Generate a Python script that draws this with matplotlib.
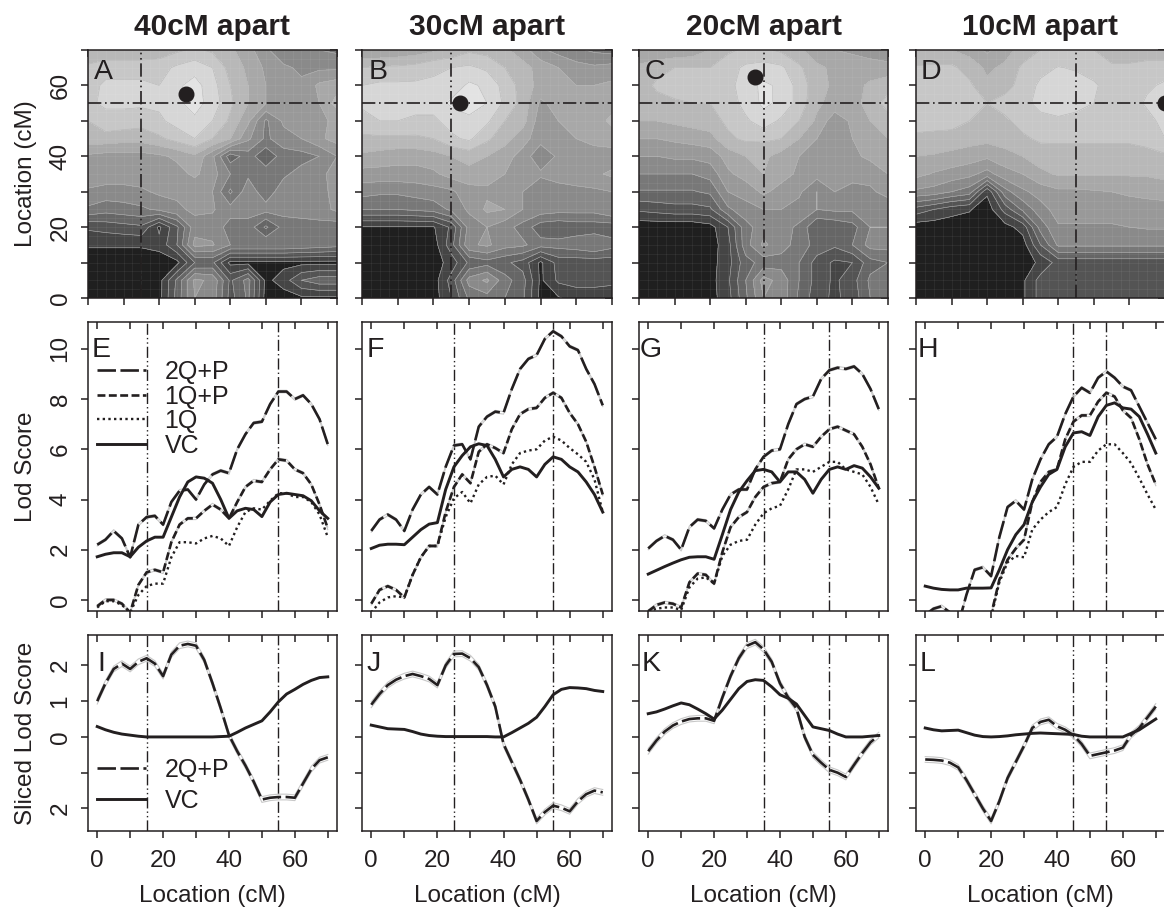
import numpy as np
import matplotlib
matplotlib.use("Agg")
import matplotlib.pyplot as plt

plt.rcParams['font.family'] = ['Liberation Sans', 'DejaVu Sans']
INK = '#231f20'
W, H = 1164, 908

# data: map grids, rows run from y=70 down to y=0, columns x=0..70 in 5 cM steps
map_x = np.arange(0, 75, 5)
map_y = np.arange(70, -5, -5)
grid_a = [
    [8.2, 8.2, 8.2, 8.2, 8.4, 8.8, 9.2, 8.8, 8.2, 7.4, 6.2, 5.2, 5, 5, 4.8],
    [9.2, 9.6, 9.6, 9.6, 9.6, 10.2, 10.6, 10, 8.6, 7.8, 6.8, 6.2, 5.8, 5.8, 5.8],
    [9.6, 10.2, 10.2, 10.2, 10, 10.8, 11.4, 10.4, 9, 8, 7, 6.4, 6.2, 7.2, 7.6],
    [9.8, 10.2, 10.2, 10.2, 10.2, 10.8, 11.4, 10.6, 9.2, 8, 7, 6.2, 6.2, 7, 8.4],
    [9, 9.6, 9.6, 9.4, 9.8, 10.4, 10.8, 10, 8.8, 7.2, 4.8, 6.2, 6.4, 6.8, 7.2],
    [8.6, 8.6, 8.4, 8.4, 8.8, 9.4, 10, 9, 8, 6.2, 4.8, 5.6, 6, 6.8, 7.4],
    [6.8, 6.6, 6.6, 6.6, 6.8, 7.2, 7.8, 6.2, 3.4, 4.5, 3.2, 4.5, 4.6, 5, 6],
    [6.8, 6.6, 6.6, 6.6, 6.4, 6.6, 7.2, 6.4, 5, 4.8, 4.6, 4.8, 5.4, 5.6, 6.6],
    [5.8, 5.6, 5.6, 5.8, 6.2, 6.2, 6.2, 6, 3.8, 5.6, 4.4, 5.6, 5.6, 5.6, 6.4],
    [4.8, 4.4, 4.6, 4.8, 5.2, 5.8, 6.2, 6.1, 5.4, 5.4, 5.4, 5.4, 5.4, 5.6, 6.2],
    [2.2, 2.4, 2.6, 2.8, .8, 2.8, 5.6, 5.6, 4.6, 4.6, 2.8, 4.4, 4.6, 4.6, 4.4],
    [1.1, 1.1, 1.1, 1.1, 1.3, 3, 6.3, 6.1, 5, 5, 5, 5, 4.8, 4.6, 4.4],
    [.5, .5, .5, .5, .5, .7, 3, 3.2, .7, .7, .7, .7, .7, .7, .7],
    [.5, .5, .5, .5, .6, 3.2, 6.2, 5.8, 2.8, 4.4, .7, 1.5, 3, 3.6, 3.6],
    [.5, .5, .5, .5, .6, 3.4, 6, 5.6, 2.6, 4.2, .6, .5, .8, .8, .8],
]
grid_b = [
    [7, 7, 7.2, 7.4, 7.8, 8.2, 8.8, 8.6, 8.2, 7.4, 6.2, 5.6, 5.2, 4.8, 4.6],
    [9, 9.2, 9.2, 9.4, 9.8, 10, 10.2, 9.8, 9, 8.4, 7.6, 7, 6.4, 6.2, 6.4],
    [10, 10.2, 10.2, 10.2, 10.2, 10.4, 11.2, 10.8, 9.6, 8.6, 7.6, 7.4, 7, 7, 7.2],
    [10.2, 10.4, 10.6, 10.4, 10.4, 11.2, 11.4, 11, 9.8, 8.6, 6.8, 7.4, 7.4, 7.4, 7.6],
    [9.6, 10, 10, 9.8, 9.8, 10.4, 10.8, 10.2, 9, 8.4, 6.4, 7, 7.2, 7.6, 8.2],
    [8.8, 8.8, 8.8, 8.8, 9, 9.8, 10.2, 9.2, 8.4, 7.4, 6.4, 6.8, 7, 7.4, 7.6],
    [7.8, 7.6, 7.4, 7.4, 7.6, 8, 8.4, 8, 7.4, 6.6, 5.2, 6.2, 6.4, 6.4, 6.4],
    [6.6, 6.6, 6.6, 6.6, 6.8, 7.4, 7.6, 7.4, 7, 6.4, 6.2, 6.2, 6.4, 6.8, 7.2],
    [5.4, 5.2, 5.2, 5.4, 5.6, 5.8, 6.6, 6.8, 6.6, 6, 5.2, 5.8, 5.8, 5.8, 6],
    [4, 4, 4, 4.2, 4.4, 5.2, 6.2, 7.2, 7, 6, 5.6, 5.4, 5.4, 5.4, 6],
    [.9, .9, .9, .9, .9, 2.2, 5.4, 6, 5.4, 4.6, 3.4, 3.2, 3.4, 3.4, 3.4],
    [.6, .6, .6, .6, .5, 2.6, 5.8, 6.2, 5.4, 5.2, 4.4, 4.4, 4.6, 5, 4.4],
    [.5, .5, .5, .5, .5, 1.4, 3.2, 3.6, 3.2, 2.6, .8, 2.4, 2.4, 2.4, 2.4],
    [.5, .5, .5, .5, .5, 2.4, 5.4, 6.2, 4.4, 3.4, .8, 2.2, 2.4, 2.4, 2.4],
    [.5, .5, .5, .5, .5, 2, 4.2, 4.6, 4, 3.2, .7, .9, 1.4, 1.4, 1],
]
grid_c = [
    [7.2, 7.2, 7.2, 7.4, 8, 8.8, 9.2, 9.2, 8.8, 8.2, 7.4, 7, 6.8, 6.6, 6.2],
    [8.2, 8.6, 9, 9, 9, 9.6, 10.2, 10.4, 10.2, 9.2, 8.2, 7.8, 7.6, 7.4, 7.4],
    [8.4, 9.2, 9.6, 9.8, 9.6, 9.6, 10.6, 11.2, 10.8, 9.6, 8.4, 7.8, 7.6, 8.2, 8.6],
    [8.4, 8.6, 8.8, 9, 9, 9.4, 10.4, 11.2, 10.8, 9.6, 8.2, 7.6, 7.6, 8.4, 9.4],
    [8, 8, 8.2, 8.4, 8.6, 9.2, 9.8, 10.6, 9.8, 9, 7.8, 6.4, 7.2, 8, 8.6],
    [7, 7, 7.2, 7.4, 7.6, 8.8, 9.2, 9.2, 9, 8, 7, 6.4, 7, 7.6, 8],
    [6, 6, 6.2, 6.2, 6.4, 7.4, 8, 8.2, 7.6, 7, 6, 6.2, 6.8, 7.2, 7.6],
    [5, 5, 5, 5, 5.4, 6.8, 7.4, 8, 7.4, 6.8, 6.4, 6.4, 6.2, 6.4, 7],
    [3.9, 3.9, 3.9, 3.9, 4.2, 6, 6.4, 7.2, 6.6, 6.2, 5, 6, 5.8, 5.8, 6.4],
    [2.2, 2.4, 2.6, 2.6, 2.8, 4.8, 5.6, 6, 6, 5.6, 5, 5.2, 5.2, 5.2, 5.2],
    [.3, .3, .3, .3, .6, 2, 4.6, 5.6, 5.4, 4.8, 3, 3.2, 3.6, 5, 5],
    [.3, .3, .3, .3, .5, 1.6, 4.6, 6.2, 5.4, 4.6, 3.6, 3.2, 4, 5.4, 5.4],
    [.3, .3, .3, .3, .6, 1.6, 3.6, 4.4, 4.6, 4, 2.6, 1.8, 2, 3.6, 4],
    [.3, .3, .3, .3, .6, 1.8, 4, 6.4, 5.6, 4, 2.6, 1.8, 2.6, 4.2, 4.2],
    [.3, .3, .3, .3, .6, 1.6, 3.8, 6, 5.6, 3.8, 2.4, 1.8, 2.4, 4, 4],
]
grid_d = [
    [8.2, 8.2, 8, 7.6, 6.8, 7.6, 8.4, 9, 9.2, 9.2, 9, 8.4, 8.4, 8.4, 8.4],
    [9.1, 9.2, 9.2, 8.6, 7.8, 8.2, 9.2, 9.7, 10.05, 9.9, 9.4, 9.2, 9.2, 9.4, 9.4],
    [9.4, 9.4, 9.4, 9.2, 8.2, 8.6, 9.4, 10.2, 10.6, 10.4, 10.2, 9.4, 9.4, 9.8, 10.2],
    [9.4, 9.4, 9.4, 9.4, 9, 9.4, 9.6, 10.4, 10.6, 10.4, 10, 9.4, 9.4, 10.2, 11],
    [9.4, 9.4, 9.4, 9, 8.2, 8.8, 9.4, 9.6, 9.8, 9.6, 9.4, 9.4, 9.4, 9.6, 10.4],
    [8.8, 8.7, 8.6, 8.4, 8.3, 8.5, 8.8, 9.2, 9.2, 9.2, 9.2, 9.2, 9.2, 9.4, 10],
    [8, 7.9, 7.7, 7.5, 7.2, 7.6, 8, 8.4, 8.5, 8.5, 8.5, 8.5, 8.5, 8.6, 8.8],
    [7.3, 6.9, 6.6, 6.3, 5.6, 6.6, 7, 7.8, 8.1, 8.1, 8.1, 8.1, 8.1, 8.1, 8.2],
    [5.8, 5.6, 5, 4.5, 1.2, 4.6, 5.8, 6.4, 6.8, 6.8, 6.9, 7, 7.2, 7.4, 7.6],
    [2.6, 2, 1.4, 1.1, .4, 2.4, 4.2, 5.6, 6.4, 6.4, 6.4, 6.4, 6.4, 6.4, 6.4],
    [.4, .4, .4, .4, .4, .6, 1.4, 4.4, 5.9, 5.9, 5.9, 5.9, 6, 6.1, 6.1],
    [.4, .4, .4, .4, .4, .4, .5, 3, 5.2, 5.2, 5.2, 5.2, 5.2, 5.2, 5.2],
    [.4, .4, .4, .4, .4, .4, .5, 1.2, 2.4, 2.4, 2.4, 2.4, 2.4, 2.4, 2.4],
    [.4, .4, .4, .4, .4, .4, .8, 2.4, 2.4, 2.4, 2.4, 2.4, 2.4, 2.4, 2.4],
    [.4, .4, .4, .4, .4, .4, .8, 2.4, 2.4, 2.4, 2.4, 2.4, 2.4, 2.4, 2.4],
]
band_grays = [.12, .27, .33, .40, .47, .54, .60, .66, .72, .78, .84, .89]

# peak dots, and true QTL positions (the dash-dot lines)
peak_x = [27.5, 27.5, 32.5, 70]
peak_y = [57.5, 55, 62.5, 55]
qtl1 = [15, 25, 35, 45]
qtl2 = [55, 55, 55, 55]

titles = ['40cM apart', '30cM apart', '20cM apart', '10cM apart']
letters = ['ABCD', 'EFGH', 'IJKL']

# lod curves every 2.5 cM
loc = np.arange(0, 72.5, 2.5)
e_2qp = [2.2, 2.4, 2.75, 2.45, 1.7, 3.0, 3.3, 3.35, 3.0, 3.9, 4.35, 4.4, 4.0, 4.6, 5.0, 5.15, 5.05, 6.0, 6.6, 7.05, 7.1, 7.8, 8.3, 8.3, 8.0, 8.15, 7.8, 7.2, 6.2]
e_1qp = [-.25, 0, 0, -.15, -.5, .6, 1.1, 1.2, 1.1, 2.3, 3.0, 3.25, 3.25, 3.55, 3.8, 3.6, 3.25, 3.9, 4.5, 4.75, 4.7, 5.2, 5.6, 5.55, 5.2, 5.05, 4.6, 3.8, 2.85]
e_1q = [-.3, -.05, -.05, -.2, -.5, .2, .55, .65, .65, 1.7, 2.3, 2.3, 2.25, 2.45, 2.55, 2.45, 2.15, 2.9, 3.5, 3.65, 3.6, 3.95, 4.25, 4.25, 4.1, 4.1, 3.9, 3.4, 2.5]
e_vc = [1.72, 1.82, 1.88, 1.88, 1.72, 2.1, 2.35, 2.5, 2.5, 3.3, 4.1, 4.7, 4.9, 4.85, 4.65, 4.0, 3.25, 3.55, 3.65, 3.6, 3.32, 3.9, 4.2, 4.25, 4.2, 4.15, 3.95, 3.55, 3.25]

f_2qp = [2.75, 3.2, 3.4, 3.2, 2.75, 3.6, 4.2, 4.5, 4.2, 5.3, 6.15, 6.2, 5.6, 6.9, 7.3, 7.5, 7.45, 8.4, 9.2, 9.6, 9.75, 10.4, 10.7, 10.5, 10.1, 9.95, 9.2, 8.6, 7.75]
f_1qp = [-.15, .4, .55, .4, .1, 1.0, 1.7, 2.15, 2.15, 3.5, 4.5, 5.0, 4.65, 5.9, 6.2, 6.05, 5.85, 6.8, 7.4, 7.6, 7.65, 8.05, 8.25, 8.05, 7.45, 7.0, 6.3, 5.3, 4.2]
f_1q = [-.5, -.1, .1, .15, .1, 1.0, 1.7, 2.15, 2.15, 3.3, 4.05, 4.3, 3.85, 4.6, 4.9, 4.95, 4.6, 5.4, 5.85, 5.95, 6.0, 6.35, 6.5, 6.35, 6.05, 5.8, 5.5, 4.8, 3.5]
f_vc = [2.05, 2.18, 2.22, 2.22, 2.2, 2.5, 2.8, 3.02, 3.08, 4.4, 5.3, 5.75, 6.1, 6.22, 6.15, 5.6, 4.9, 5.2, 5.3, 5.2, 4.9, 5.4, 5.7, 5.6, 5.3, 5.1, 4.7, 4.2, 3.5]

g_2qp = [2.05, 2.35, 2.55, 2.4, 2.0, 2.9, 3.2, 3.15, 2.85, 3.6, 4.2, 4.4, 4.4, 5.2, 5.7, 5.95, 6.0, 7.0, 7.8, 8.0, 8.1, 8.8, 9.15, 9.25, 9.2, 9.3, 9.0, 8.4, 7.6]
g_1qp = [-.45, -.2, -.1, -.15, -.3, .7, 1.05, 1.0, .65, 1.9, 2.9, 3.3, 3.5, 4.1, 4.5, 4.65, 4.7, 5.6, 6.0, 6.2, 6.1, 6.5, 6.8, 6.9, 6.75, 6.6, 6.1, 5.4, 4.45]
g_1q = [-.45, -.35, -.3, -.3, -.4, .5, .85, .9, .65, 1.75, 2.2, 2.35, 2.4, 3.0, 3.45, 3.65, 3.75, 4.4, 5.2, 5.2, 5.1, 5.3, 5.5, 5.5, 5.2, 5.1, 5.0, 4.5, 3.8]
g_vc = [1.03, 1.18, 1.33, 1.47, 1.6, 1.7, 1.72, 1.72, 1.62, 2.6, 3.6, 4.3, 4.75, 5.15, 5.2, 5.1, 4.7, 5.1, 5.1, 4.8, 4.25, 4.8, 5.2, 5.3, 5.2, 5.35, 5.25, 4.9, 4.45]

h_2qp = [-.6, -.35, -.25, -.5, -1, .2, 1.2, 1.3, .95, 2.5, 3.7, 3.95, 3.6, 4.8, 5.6, 6.2, 6.5, 7.4, 8.1, 8.45, 8.25, 8.85, 9.1, 8.85, 8.5, 8.35, 7.7, 7.05, 6.4]
h_1qp = [-1.6, -1.4, -1.3, -1.4, -1.7, -1.5, -1.2, -1.1, -.6, .8, 1.6, 2.05, 2.4, 3.9, 4.7, 5.1, 5.2, 6.4, 7.1, 7.35, 7.35, 7.9, 8.25, 8.1, 7.55, 7.25, 6.4, 5.4, 4.6]
h_1q = [-1.8, -1.6, -1.5, -1.6, -1.9, -1.7, -1.4, -1.3, -.7, .7, 1.5, 1.75, 1.7, 2.8, 3.2, 3.5, 3.7, 4.6, 5.3, 5.5, 5.5, 5.95, 6.2, 6.2, 5.85, 5.45, 4.85, 4.2, 3.6]
h_vc = [.55, .47, .42, .4, .4, .47, .47, .47, .48, 1.2, 2.0, 2.6, 3.0, 3.9, 4.5, 5.0, 5.2, 6.1, 6.65, 6.7, 6.55, 7.3, 7.75, 7.85, 7.65, 7.6, 7.3, 6.6, 5.85]

# sliced lod curves
i_2qp = [1.0, 1.5, 1.9, 2.05, 1.9, 2.1, 2.2, 2.05, 1.7, 2.3, 2.55, 2.6, 2.55, 2.15, 1.5, .8, .05, -.4, -.8, -1.25, -1.75, -1.7, -1.68, -1.68, -1.7, -1.3, -.9, -.65, -.57]
i_vc = [.29, .2, .13, .08, .05, .02, 0, 0, 0, 0, 0, 0, 0, 0, 0, .01, .02, .13, .25, .35, .45, .7, .98, 1.2, 1.33, 1.47, 1.58, 1.66, 1.68]
j_2qp = [.9, 1.2, 1.45, 1.6, 1.7, 1.76, 1.7, 1.62, 1.45, 2.0, 2.32, 2.33, 2.2, 1.95, 1.45, .85, -.2, -.7, -1.2, -1.75, -2.35, -2.1, -1.92, -1.98, -2.08, -1.8, -1.6, -1.5, -1.55]
j_vc = [.33, .28, .23, .22, .21, .15, .08, .04, .02, .01, .01, .01, .01, .01, .01, 0, 0, .12, .25, .38, .55, .85, 1.18, 1.33, 1.38, 1.37, 1.35, 1.3, 1.27]
k_2qp = [-.4, -.1, .15, .32, .43, .5, .52, .52, .45, 1.1, 1.7, 2.2, 2.55, 2.65, 2.45, 2.1, 1.5, 1.1, .8, 0, -.5, -.72, -.92, -1.0, -1.12, -.78, -.45, -.15, .05]
k_vc = [.65, .7, .78, .87, .95, .9, .78, .65, .5, .75, 1.05, 1.35, 1.55, 1.6, 1.58, 1.4, 1.18, 1.08, .92, .6, .28, .23, .18, .08, 0, 0, 0, .02, .04]
l_2qp = [-.63, -.64, -.66, -.72, -.85, -1.2, -1.6, -2.0, -2.35, -1.8, -1.15, -.7, -.25, .25, .42, .48, .3, .2, .05, -.2, -.53, -.48, -.43, -.38, -.3, .05, .25, .55, .85]
l_vc = [.25, .2, .17, .18, .19, .12, .05, .01, 0, .01, .03, .06, .08, .1, .11, .1, .09, .08, .07, .02, 0, 0, 0, 0, 0, .1, .2, .35, .5]

grids = [grid_a, grid_b, grid_c, grid_d]
lod_curves = [(e_2qp, e_1qp, e_1q, e_vc), (f_2qp, f_1qp, f_1q, f_vc), (g_2qp, g_1qp, g_1q, g_vc), (h_2qp, h_1qp, h_1q, h_vc)]
sliced_curves = [(i_2qp, i_vc), (j_2qp, j_vc), (k_2qp, k_vc), (l_2qp, l_vc)]

# pixel layout of the panels
col_x = [(88, 337), (362, 612), (639, 888), (916, 1165)]
row_y = [(50, 298), (322, 611), (635, 831)]
# letter offsets from the panel corner, pixels
letter_dx = [[6, 6.5, 5, 5], [4, 4.6, 1, 2], [9.6, 4.6, 3, 4]]
letter_dy = [9, 15, 16]

LONG = (0, (7, 1.7))
SHORT = (0, (3, 1.3))
DOT = (0, (1, 1.4))
LINE2 = (0, (8, 2.2, 1, 2.2))
LINE1 = (0, (8, 2.2, 1, 2.2, 1, 2.2))

fig = plt.figure(figsize=(W / 100, H / 100), dpi=100)


def make_ax(r, c):
    x0, x1 = col_x[c]
    y0, y1 = row_y[r]
    ax = fig.add_axes([x0 / W, 1 - y1 / H, (x1 - x0) / W, (y1 - y0) / H])
    for s in ax.spines.values():
        s.set_linewidth(1.1)
        s.set_color(INK)
    ax.tick_params(length=4.8, width=1.1, color=INK, labelcolor=INK, labelsize=17.5)
    ax.tick_params(axis='x', pad=9)
    ax.tick_params(axis='y', pad=7)
    return ax


def style_ticks(ax, r, c, yticks, ylabels, right_ticks=False):
    ax.set_xticks(np.arange(0, 80, 10))
    ax.set_yticks(yticks)
    if r == 2:
        ax.set_xticklabels(['0', '', '20', '', '40', '', '60', ''])
        ax.set_xlabel('Location (cM)', fontsize=17.5, color=INK, labelpad=9)
    else:
        ax.set_xticklabels([])
    if c == 0:
        ax.set_yticklabels(ylabels, rotation=90, va='center')
    else:
        ax.set_yticklabels([])
    sec = ax.secondary_xaxis('top')
    sec.set_xticks(np.arange(0, 80, 10))
    sec.set_xticklabels([])
    sec.tick_params(direction='in', length=5, width=1.1, color=INK)
    sec.spines['top'].set_visible(False)
    if right_ticks:
        sr = ax.secondary_yaxis('right')
        sr.set_yticks(yticks)
        sr.set_yticklabels([])
        sr.tick_params(direction='in', length=5, width=1.1, color=INK)
        sr.spines['right'].set_visible(False)
    x0, x1 = col_x[c]
    y0, y1 = row_y[r]
    ax.text(letter_dx[r][c] / (x1 - x0), 1 - letter_dy[r] / (y1 - y0), letters[r][c], transform=ax.transAxes,
            fontsize=20.5, color=INK, ha='left', va='top')


def halo(ax, y, d):
    y = np.array(y)
    ax.plot(loc, y + d, color='#c8c8c8', lw=.8)
    ax.plot(loc, y - d, color='#c8c8c8', lw=.8)


for c in range(4):
    # top row, filled contour map
    ax = make_ax(0, c)
    z = np.array(grids[c])
    levels = np.arange(0, 13)
    ax.contourf(map_x, map_y, z, levels=levels, colors=[str(g) for g in band_grays])
    ax.contour(map_x, map_y, z, levels=levels[1:-1], colors='#b5b5b5', linewidths=.4)
    for t in np.arange(2.5, 70, 2.5):
        ax.axvline(t, color='white', lw=.5, alpha=.08)
        ax.axhline(t, color='white', lw=.5, alpha=.08)
    ax.axhline(qtl2[c], color=INK, lw=1.2, ls=LINE2)
    ax.axvline(qtl1[c], color=INK, lw=1.2, ls=LINE1)
    ax.plot(peak_x[c], peak_y[c], 'o', color=INK, ms=10.5, clip_on=False, zorder=5)
    ax.set_xlim(0, 70)
    ax.set_ylim(0, 70)
    style_ticks(ax, 0, c, np.arange(0, 80, 10), ['0', '', '20', '', '40', '', '60', ''], right_ticks=True)
    ax.set_title(titles[c], fontsize=21.5, fontweight='bold', color=INK, pad=10.5)
    if c == 0:
        ax.set_ylabel('Location (cM)', fontsize=17.5, color=INK, labelpad=9)

    # middle row, lod scores
    ax = make_ax(1, c)
    y_2qp, y_1qp, y_1q, y_vc = lod_curves[c]
    ax.axvline(qtl1[c], color=INK, lw=1, ls=LINE1)
    ax.axvline(qtl2[c], color=INK, lw=1, ls=LINE2)
    halo(ax, y_2qp, .05)
    halo(ax, y_1qp, .05)
    ax.plot(loc, y_2qp, color=INK, lw=1.9, ls=LONG, label='2Q+P')
    ax.plot(loc, y_1qp, color=INK, lw=1.9, ls=SHORT, label='1Q+P')
    ax.plot(loc, y_1q, color=INK, lw=1.7, ls=DOT, label='1Q')
    ax.plot(loc, y_vc, color=INK, lw=2.1, label='VC')
    ax.set_xlim(-2.8, 72.8)
    ax.set_ylim(-.44, 11.07)
    style_ticks(ax, 1, c, np.arange(0, 12, 2), ['0', '2', '4', '6', '8', '10'])
    if c == 0:
        ax.set_ylabel('Lod Score', fontsize=17.5, color=INK, labelpad=9)
        ax.legend(loc='upper left', bbox_to_anchor=(.026, .877), frameon=False, fontsize=18, labelcolor=INK,
                  handlelength=1.95, handletextpad=.75, labelspacing=.02, borderaxespad=0, borderpad=.1)

    # bottom row, sliced lod scores
    ax = make_ax(2, c)
    y_2qp, y_vc = sliced_curves[c]
    ax.axvline(qtl1[c], color=INK, lw=1, ls=LINE1)
    ax.axvline(qtl2[c], color=INK, lw=1, ls=LINE2)
    halo(ax, y_2qp, .08)
    ax.plot(loc, y_2qp, color=INK, lw=1.9, ls=LONG, label='2Q+P')
    ax.plot(loc, y_vc, color=INK, lw=2.1, label='VC')
    ax.set_xlim(-2.8, 72.8)
    ax.set_ylim(-2.63, 2.85)
    style_ticks(ax, 2, c, [-2, -1, 0, 1, 2], ['2', '', '0', '1', '2'])
    if c == 0:
        ax.set_ylabel('Sliced Lod Score', fontsize=17.5, color=INK, labelpad=9)
        ax.legend(loc='lower left', bbox_to_anchor=(.026, .08), frameon=False, fontsize=18, labelcolor=INK,
                  handlelength=1.95, handletextpad=.75, labelspacing=.28, borderaxespad=0, borderpad=.1)

fig.savefig('out.png', dpi=100)
